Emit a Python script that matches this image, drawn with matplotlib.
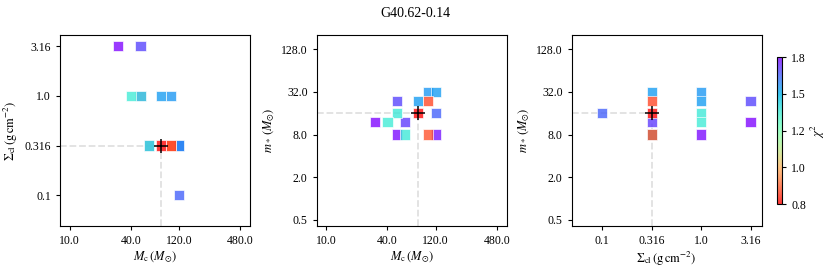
import matplotlib
matplotlib.use("Agg")
import matplotlib.pyplot as plt
from matplotlib.colors import LogNorm
import numpy as np

plt.rcParams['font.family'] = ['Liberation Serif', 'DejaVu Serif']
plt.rcParams['mathtext.fontset'] = 'stix'

# fitted models (one entry per model)
mc = [30, 50, 120, 40, 50, 80, 100, 50, 60, 60, 80, 100, 100, 120, 120]
sigma = [3.16, 3.16, 0.1, 1.0, 1.0, 1.0, 1.0, 1.0, 0.316, 0.316, 0.316, 0.316, 0.316, 0.316, 0.316]
mstar = [12, 24, 16, 12, 16, 24, 32, 8, 8, 12, 16, 24, 8, 32, 8]
chi2 = [1.79, 1.68, 1.63, 1.33, 1.34, 1.52, 1.53, 1.78, 1.34, 1.70, 0.80, 0.86, 0.87, 1.52, 1.77]

best_mc = 80
best_sigma = 0.316
best_mstar = 16

mc_ticks = [10, 40, 120, 480]
sigma_ticks = [0.1, 0.316, 1.0, 3.16]
mstar_ticks = [0.5, 2, 8, 32, 128]
cbar_ticks = [0.8, 0.98, 1.2, 1.47, 1.8]
cbar_labels = ['0.8', '1.0', '1.2', '1.5', '1.8']

mc_lim = (8, 600)
sigma_lim = (0.049, 4.1)
mstar_lim = (0.41, 204)

# lowest chi2 drawn last (on top)
order = np.argsort(chi2)[::-1]
mc = np.array(mc)[order]
sigma = np.array(sigma)[order]
mstar = np.array(mstar)[order]
chi2 = np.array(chi2)[order]

norm = LogNorm(vmin=0.8, vmax=1.8)
cmap = 'rainbow_r'

fig = plt.figure(figsize=(8.31, 2.71), dpi=100)
ax1 = fig.add_axes([0.0722, 0.166, 0.2286, 0.705])
ax2 = fig.add_axes([0.381, 0.166, 0.2286, 0.705])
ax3 = fig.add_axes([0.688, 0.166, 0.2286, 0.705])
cax = fig.add_axes([0.935, 0.247, 0.0065, 0.542])

fig.suptitle('G40.62-0.14', fontsize=10, y=0.975)

panels = [
    (ax1, mc, sigma, best_mc, best_sigma, mc_ticks, sigma_ticks, mc_lim, sigma_lim,
     r'$M_{\rm c}\,(M_{\odot})$', r'$\Sigma_{\rm cl}\,({\rm g\,cm^{-2}})$'),
    (ax2, mc, mstar, best_mc, best_mstar, mc_ticks, mstar_ticks, mc_lim, mstar_lim,
     r'$M_{\rm c}\,(M_{\odot})$', r'$m_*\,(M_{\odot})$'),
    (ax3, sigma, mstar, best_sigma, best_mstar, sigma_ticks, mstar_ticks, sigma_lim, mstar_lim,
     r'$\Sigma_{\rm cl}\,({\rm g\,cm^{-2}})$', r'$m_*\,(M_{\odot})$'),
]

for ax, xv, yv, bx, by, xt, yt, xl, yl, xlab, ylab in panels:
    ax.set_xscale('log')
    ax.set_yscale('log')
    ax.set_xlim(xl)
    ax.set_ylim(yl)
    ax.plot([xl[0], bx], [by, by], ls='--', color='0.88', lw=1.3, zorder=1)
    ax.plot([bx, bx], [yl[0], by], ls='--', color='0.88', lw=1.3, zorder=1)
    sc = ax.scatter(xv, yv, c=chi2, cmap=cmap, norm=norm, marker='s', s=55,
                    alpha=0.78, edgecolors='white', linewidths=0.6, zorder=2)
    ax.scatter([bx], [by], marker='+', color='k', s=110, lw=1.1, zorder=3)
    ax.set_xticks(xt)
    ax.set_xticklabels([str(float(t)) for t in xt])
    ax.set_yticks(yt)
    ax.set_yticklabels([str(float(t)) for t in yt])
    ax.minorticks_off()
    ax.tick_params(labelsize=8.5, length=3)
    ax.set_xlabel(xlab, fontsize=9, labelpad=2)
    ax.set_ylabel(ylab, fontsize=9, labelpad=3)

cb = fig.colorbar(sc, cax=cax)
cb.ax.minorticks_off()
cb.set_ticks(cbar_ticks)
cb.set_ticklabels(cbar_labels)
cb.ax.tick_params(labelsize=8.5, length=3)
cb.set_label(r'$\chi^2$', fontsize=9, labelpad=2)

fig.savefig('out.png', dpi=100)
